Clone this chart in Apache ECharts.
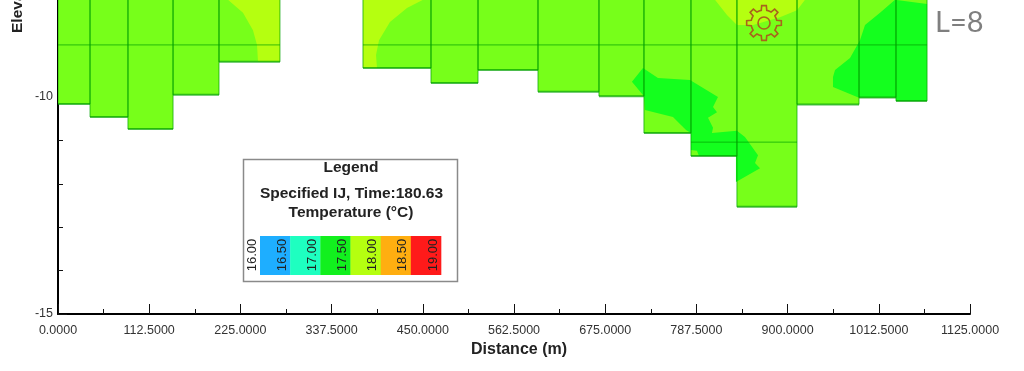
<!DOCTYPE html>
<html>
<head>
<meta charset="utf-8">
<style>
  html, body { margin: 0; background: #fff; }
  #chart { width: 1024px; height: 371px; }
</style>
<script src="https://cdn.jsdelivr.net/npm/echarts@6/dist/echarts.min.js"></script>
</head>
<body>
<div id="chart"></div>
<script>
// distance at the left/right edge of each grid column (m), top of the section is off the crop
const columnLeft = [0, 39.5, 86.3, 141.9, 198.6, 376.2, 460.1, 518.1, 592.1, 667.3, 722.8, 780.8, 837.5, 911.6, 988.1, 1033.7]
const columnRight = [39.5, 86.3, 141.9, 198.6, 273.8, 460.1, 518.1, 592.1, 667.3, 722.8, 780.8, 837.5, 911.6, 988.1, 1033.7, 1072]
const columnBottom = [-10.16, -10.46, -10.74, -9.95, -9.19, -9.33, -9.68, -9.38, -9.88, -9.98, -10.83, -11.36, -12.53, -10.17, -10.01, -10.09]
const columnTop = -7

// horizontal cell lines: [elevation, from distance, to distance]
const layerLines = [[-8.8, 0, 273.8], [-8.8, 376.2, 1072], [-11.04, 780.8, 911.6]]

// temperature bands, [distance, elevation]
const warmLeft = [[202.3, -7.5], [209.7, -7.76], [228.2, -8.06], [240.5, -8.46], [245.5, -8.8], [246.7, -9.19], [273.8, -9.19], [273.8, -7.5]]
const warmMiddle = [[376.2, -7.5], [376.2, -9.33], [393.5, -9.33], [392.3, -9.03], [396, -8.69], [409.5, -8.27], [430.5, -7.95], [450.3, -7.76], [477.4, -7.5]]
const warmRight = [[798.1, -7.5], [810.4, -7.76], [825.2, -8.11], [837.5, -8.34], [857.3, -8.34], [890.6, -8.16], [911.6, -8], [921.5, -7.76], [933.8, -7.5]]
const coolRight = [[1032.5, -7.76], [1072, -7.86], [1072, -10.09], [1033.7, -10.09], [1033.7, -10.01], [988.1, -10.01], [988.1, -10.02], [956, -9.77], [956, -9.54], [958.5, -9.38], [977, -9.1], [989.3, -8.69], [995.5, -8.34], [1014, -8.06]]
const coolMiddle = [[721.6, -9.33], [740.1, -9.56], [779.6, -9.61], [814.1, -10], [808, -10.23], [812.9, -10.35], [801.8, -10.48], [808, -10.71], [806.7, -10.83], [837.5, -10.78], [847.4, -10.92], [863.5, -11.34], [859.8, -11.52], [866, -11.64], [836.3, -11.96], [836.3, -11.36], [790.7, -11.36], [788.2, -11.24], [780.8, -11.22], [780.8, -10.83], [774.7, -10.76], [758.6, -10.46], [724.1, -10.3], [722.8, -9.98], [708, -9.65]]

const legendLevels = ['16.00', '16.50', '17.00', '17.50', '18.00', '18.50', '19.00']
const legendColors = ['#1eaeff', '#1effc0', '#12f01e', '#b5ff10', '#ffae10', '#ff1a1a']

const fontName = '"Liberation Sans", Arial, sans-serif'
const baseColor = '#77ff1a'
const warmColor = '#b5ff10'
const coolColor = '#14ff1e'
const lineColor = 'rgba(0,160,0,0.7)'

// icon outline only, not chart data
function gearPoints(cx, cy, teeth, outer, inner) {
    const points = []
    const step = Math.PI * 2 / teeth
    for (let i = 0; i < teeth; i++) {
        const a = i * step - Math.PI / 2
        const pts = [[inner, a - step * 0.5], [inner, a - step * 0.27], [outer, a - step * 0.17], [outer, a + step * 0.17], [inner, a + step * 0.27]]
        pts.forEach(p => {
            points.push([cx + p[0] * Math.cos(p[1]), cy + p[0] * Math.sin(p[1])])
        })
    }
    return points
}

function polygonSeries(points, color) {
    return {
        type: 'custom',
        z: 3,
        silent: true,
        clip: true,
        data: points,
        renderItem(params, api) {
            if (params.dataIndex !== 0) return null
            return {
                type: 'polygon',
                shape: { points: points.map(p => api.coord(p)) },
                style: { fill: color }
            }
        }
    }
}

// legend strip, laid out from its level lists
const stripLeft = 260, stripStep = 30.17, stripTop = 236, stripHeight = 39
const legendGraphic = [
    { type: 'rect', shape: { x: 243.5, y: 159.5, width: 214, height: 122 }, style: { fill: '#fff', stroke: '#8a8a8a', lineWidth: 1.5 } },
    { type: 'text', x: 351, y: 168, style: { text: 'Legend', font: 'bold 15.5px ' + fontName, fill: '#222', textAlign: 'center', textVerticalAlign: 'middle' } },
    { type: 'text', x: 351.5, y: 194, style: { text: 'Specified IJ, Time:180.63', font: 'bold 15.5px ' + fontName, fill: '#222', textAlign: 'center', textVerticalAlign: 'middle' } },
    { type: 'text', x: 351, y: 213, style: { text: 'Temperature (°C)', font: 'bold 15.5px ' + fontName, fill: '#222', textAlign: 'center', textVerticalAlign: 'middle' } }
]
legendColors.forEach((c, i) => {
    legendGraphic.push({ type: 'rect', shape: { x: stripLeft + i * stripStep, y: stripTop, width: stripStep + 0.3, height: stripHeight }, style: { fill: c } })
})
legendLevels.forEach((t, i) => {
    legendGraphic.push({
        type: 'text', x: stripLeft - 8 + i * stripStep, y: 255, rotation: Math.PI / 2,
        style: { text: t, font: '13px ' + fontName, fill: '#222', textAlign: 'center', textVerticalAlign: 'middle' }
    })
})

const chart = echarts.init(document.getElementById('chart'), null, { renderer: 'canvas' })
chart.setOption({
    animation: false,
    backgroundColor: '#fff',
    // the section runs above the crop, so the plot starts off the page
    grid: { left: 58, right: 54, top: -120, bottom: 57, outerBoundsMode: 'none' },
    xAxis: {
        type: 'value',
        min: 0,
        max: 1125,
        interval: 112.5,
        name: 'Distance (m)',
        nameLocation: 'middle',
        nameGap: 28,
        nameTextStyle: { fontFamily: fontName, fontWeight: 'bold', fontSize: 16, color: '#222', padding: [0, 0, 0, 10] },
        axisLine: { onZero: false, lineStyle: { color: '#000', width: 2 } },
        axisTick: { inside: true, length: 10, lineStyle: { color: '#111' } },
        minorTick: { show: true, splitNumber: 2, length: 5, lineStyle: { color: '#111' } },
        splitLine: { show: false },
        axisLabel: { margin: 10, fontFamily: fontName, fontSize: 12.5, color: '#333', formatter: v => v.toFixed(4) }
    },
    yAxis: {
        type: 'value',
        min: -15,
        max: -5,
        interval: 5,
        axisLine: { onZero: false, lineStyle: { color: '#000', width: 2 } },
        axisTick: { inside: true, length: 9, lineStyle: { color: '#111' } },
        minorTick: { show: true, splitNumber: 5, length: 5, lineStyle: { color: '#111' } },
        splitLine: { show: false },
        axisLabel: { margin: 5, showMaxLabel: false, fontFamily: fontName, fontSize: 12.5, color: '#333' }
    },
    series: [
        {
            // cell fill
            type: 'custom',
            z: 2,
            silent: true,
            clip: true,
            data: columnBottom.map((b, i) => [columnLeft[i], columnRight[i], b, columnTop]),
            renderItem(params, api) {
                const a = api.coord([api.value(0), api.value(3)])
                const b = api.coord([api.value(1), api.value(2)])
                return { type: 'rect', shape: { x: a[0], y: a[1], width: b[0] - a[0], height: b[1] - a[1] }, style: { fill: baseColor } }
            }
        },
        polygonSeries(warmLeft, warmColor),
        polygonSeries(warmMiddle, warmColor),
        polygonSeries(warmRight, warmColor),
        polygonSeries(coolRight, coolColor),
        polygonSeries(coolMiddle, coolColor),
        {
            // cell outlines on top of the contours
            type: 'custom',
            z: 4,
            silent: true,
            clip: true,
            data: columnBottom.map((b, i) => [columnLeft[i], columnRight[i], b, columnTop]),
            renderItem(params, api) {
                const a = api.coord([api.value(0), api.value(3)])
                const b = api.coord([api.value(1), api.value(2)])
                const stroke = { stroke: lineColor, fill: null, lineWidth: 1 }
                return {
                    type: 'group',
                    children: [
                        { type: 'line', shape: { x1: a[0], y1: a[1], x2: a[0], y2: b[1] }, style: stroke },
                        { type: 'line', shape: { x1: b[0], y1: a[1], x2: b[0], y2: b[1] }, style: stroke },
                        { type: 'line', shape: { x1: a[0], y1: b[1], x2: b[0], y2: b[1] }, style: { stroke: lineColor, lineWidth: 2 } }
                    ]
                }
            }
        },
        {
            type: 'custom',
            z: 4,
            silent: true,
            clip: true,
            data: layerLines,
            renderItem(params, api) {
                const a = api.coord([api.value(1), api.value(0)])
                const b = api.coord([api.value(2), api.value(0)])
                return { type: 'line', shape: { x1: a[0], y1: a[1], x2: b[0], y2: b[1] }, style: { stroke: lineColor, lineWidth: 1 } }
            }
        }
    ],
    graphic: {
        elements: [
            {
                type: 'text', x: 18, y: 33, rotation: Math.PI / 2,
                style: { text: 'Elevation (m)', font: 'bold 15.5px ' + fontName, fill: '#222', textAlign: 'left', textVerticalAlign: 'middle' }
            },
            { type: 'polygon', z: 10, shape: { points: gearPoints(764, 23, 8, 17.5, 13) }, style: { fill: null, stroke: '#a8641c', lineWidth: 1.6 } },
            { type: 'circle', z: 10, shape: { cx: 764, cy: 23, r: 6 }, style: { fill: null, stroke: '#a8641c', lineWidth: 1.6 } },
            { type: 'text', x: 935, y: 23, style: { text: 'L=8', font: '29px Lato, "Open Sans", sans-serif', fill: '#7f7f7f', textVerticalAlign: 'middle' } }
        ].concat(legendGraphic)
    }
})
</script>
</body>
</html>
